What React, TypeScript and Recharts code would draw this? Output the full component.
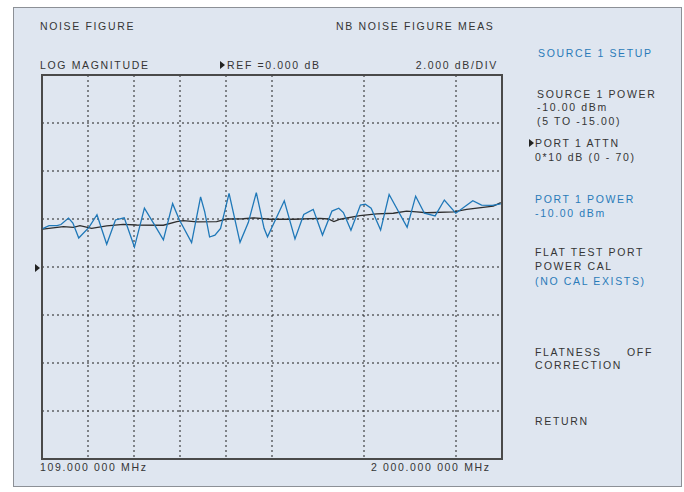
import React from "react";
import {
  LineChart,
  Line,
  XAxis,
  YAxis,
  CartesianGrid,
  ReferenceArea,
} from "recharts";

// sweep settings
const START_MHZ = 109;
const STOP_MHZ = 2000;
const DIVISIONS_X = 10;

// vertical scale: ref 0 dB at centre, 2 dB/div, 8 divisions
const dbTicks = [-8, -6, -4, -2, 0, 2, 4, 6, 8];

// raw noise-figure trace (blue)
const measFreq = [
  112, 138, 171, 187, 218, 236, 260, 302, 335, 375, 411, 447, 489, 530, 574,
  608, 646, 674, 724, 761, 778, 798, 820, 843, 878, 923, 957, 990, 1022, 1036,
  1105, 1149, 1185, 1224, 1262, 1301, 1329, 1348, 1379, 1418, 1438, 1462, 1501,
  1536, 1610, 1645, 1681, 1725, 1763, 1810, 1880, 1916, 1960, 1995,
];
const measDb = [
  1.6, 1.72, 1.72, 1.77, 2.04, 1.83, 1.21, 1.65, 2.18, 0.95, 1.96, 2.05, 0.83,
  2.45, 1.71, 1.13, 2.64, 1.96, 1.02, 2.92, 2.3, 1.25, 1.33, 1.61, 3.07, 1.03,
  1.85, 3.1, 1.61, 1.26, 2.76, 1.17, 2.19, 2.4, 1.33, 2.33, 2.45, 2.27, 1.53,
  2.58, 2.62, 2.45, 1.54, 3.02, 1.65, 2.95, 2.24, 2.13, 2.79, 2.24, 2.76, 2.58,
  2.57, 2.63,
];

// smoothed trace (black)
const avgFreq = [
  112, 197, 238, 265, 313, 375, 443, 498, 608, 663, 690, 745, 827, 868, 937,
  978, 1046, 1142, 1252, 1286, 1309, 1334, 1416, 1485, 1553, 1608, 1649, 1690,
  1800, 1855, 1964, 1995,
];
const avgDb = [
  1.58, 1.68, 1.65, 1.72, 1.61, 1.71, 1.78, 1.75, 1.74, 1.89, 1.93, 1.88, 1.89,
  2.0, 2.01, 2.05, 1.99, 1.99, 2.03, 2.0, 1.89, 1.99, 2.14, 2.21, 2.24, 2.33,
  2.3, 2.26, 2.3, 2.4, 2.54, 2.68,
];

const freqTicks = Array.from(
  { length: DIVISIONS_X + 1 },
  (_, i) => START_MHZ + (i * (STOP_MHZ - START_MHZ)) / DIVISIONS_X
);

const measData = measFreq.map((f, i) => ({ f, db: measDb[i] }));
const avgData = avgFreq.map((f, i) => ({ f, db: avgDb[i] }));

const DARK = "#353535";
const BLUE = "#2a7bb9";

const Label = ({
  x,
  y,
  children,
  color = DARK,
  right,
}: {
  x: number;
  y: number;
  children: React.ReactNode;
  color?: string;
  right?: boolean;
}) => (
  <div
    style={{
      position: "absolute",
      top: y - 7,
      left: right ? undefined : x,
      right: right ? 684 - x : undefined,
      height: 14,
      lineHeight: "14px",
      fontFamily: "'Liberation Sans', Arial, sans-serif",
      fontSize: 10.5,
      letterSpacing: 1.65,
      color,
      whiteSpace: "pre",
    }}
  >
    {children}
  </div>
);

const Arrow = ({ x, y }: { x: number; y: number }) => (
  <svg
    style={{ position: "absolute", left: x, top: y - 4 }}
    width={6}
    height={8}
  >
    <polygon points="0,0 5,4 0,8" fill="#222" />
  </svg>
);

const App = () => {
  return (
    <div style={{ position: "relative", width: 684, height: 492, background: "#fff" }}>
      <style>{"body{margin:0}"}</style>
      <div
        style={{
          position: "absolute",
          left: 13,
          top: 7,
          width: 667,
          height: 478,
          background: "#dfe6f0",
          border: "1.5px solid #8c9096",
        }}
      />
      <div style={{ position: "absolute", left: 0, top: 0 }}>
        <LineChart
          width={684}
          height={492}
          margin={{ top: 75, right: 182, bottom: 33, left: 42 }}
        >
          <CartesianGrid
            stroke="#1e1e1e"
            strokeDasharray="2 3"
            strokeWidth={1}
          />
          <XAxis
            dataKey="f"
            type="number"
            domain={[START_MHZ, STOP_MHZ]}
            ticks={freqTicks}
            allowDataOverflow
            hide
          />
          <YAxis
            type="number"
            domain={[dbTicks[0], dbTicks[dbTicks.length - 1]]}
            ticks={dbTicks}
            allowDataOverflow
            hide
          />
          <ReferenceArea
            x1={START_MHZ}
            x2={STOP_MHZ}
            y1={dbTicks[0]}
            y2={dbTicks[dbTicks.length - 1]}
            fill="none"
            stroke="#4a4a4a"
            strokeWidth={2}
          />
          <Line
            data={avgData}
            dataKey="db"
            type="linear"
            stroke="#2e2e2e"
            strokeWidth={1.3}
            dot={false}
            isAnimationActive={false}
          />
          <Line
            data={measData}
            dataKey="db"
            type="linear"
            stroke="#1f78b8"
            strokeWidth={1.3}
            dot={false}
            isAnimationActive={false}
          />
        </LineChart>
      </div>

      <Label x={40} y={26}>NOISE FIGURE</Label>
      <Label x={336} y={26}>NB NOISE FIGURE MEAS</Label>
      <Label x={40} y={65}>LOG MAGNITUDE</Label>
      <Arrow x={220} y={65} />
      <Label x={227} y={65}>REF =0.000 dB</Label>
      <Label x={498} y={65} right>2.000 dB/DIV</Label>

      <Label x={538} y={53} color={BLUE}>SOURCE 1 SETUP</Label>
      <Label x={537} y={94}>SOURCE 1 POWER</Label>
      <Label x={537} y={107}>-10.00 dBm</Label>
      <Label x={537} y={121}>(5 TO -15.00)</Label>
      <Arrow x={529} y={143} />
      <Label x={535} y={143}>PORT 1 ATTN</Label>
      <Label x={535} y={157}>0*10 dB (0 - 70)</Label>
      <Label x={535} y={199} color={BLUE}>PORT 1 POWER</Label>
      <Label x={535} y={213} color={BLUE}>-10.00 dBm</Label>
      <Label x={535} y={252}>FLAT TEST PORT</Label>
      <Label x={535} y={266}>POWER CAL</Label>
      <Label x={535} y={281} color={BLUE}>(NO CAL EXISTS)</Label>
      <Label x={535} y={352}>FLATNESS</Label>
      <Label x={627} y={352}>OFF</Label>
      <Label x={535} y={365}>CORRECTION</Label>
      <Label x={535} y={421}>RETURN</Label>

      <Arrow x={35} y={268} />
      <Label x={40} y={467}>109.000 000 MHz</Label>
      <Label x={371} y={467}>2 000.000 000 MHz</Label>
    </div>
  );
};

export default App;
